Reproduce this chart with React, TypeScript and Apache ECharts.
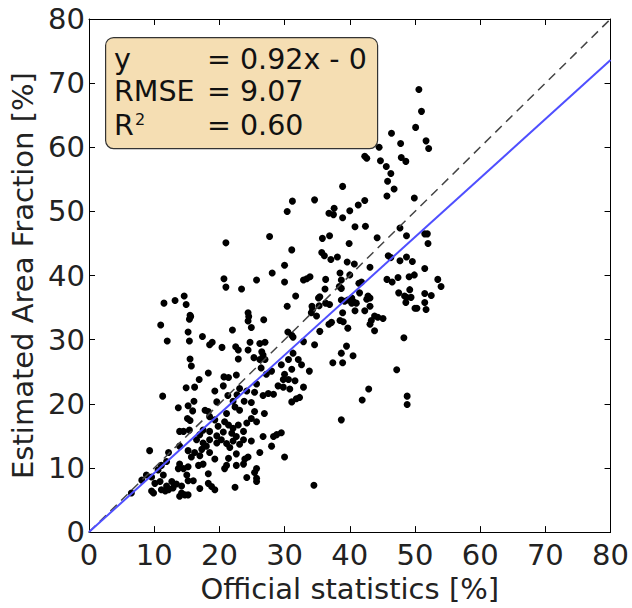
import React, { useEffect, useRef } from "react";
import * as echarts from "echarts";

const FONT = "DejaVu Sans";

// Axis range and ticks
const AXIS_MIN = 0;
const AXIS_MAX = 80;
const AXIS_STEP = 10;

// Regression fit (y = 0.92x - 0)
const FIT_SLOPE = 0.92;
const FIT_INTERCEPT = 0;

// Stats box text
const STAT_NAMES = ["y", "RMSE", "R"];
const STAT_VALUES = ["= 0.92x - 0", "= 9.07", "= 0.60"];

// Scatter points: [official statistics %, estimated area fraction %]
const POINTS_LOW: [number, number][] = [
  [16.9,23.8],[18.3,24.8],[20.7,24.2],[21.4,24.1],[22.6,24.5],[20.6,22.8],[23.1,22.4],[14.9,22.5],[16.2,22.6],[11.3,21.2],
  [19.3,22.0],[21.3,21.3],[22.7,21.4],[24.2,22.0],[25.4,21.8],[26.7,21.3],[27.5,21.6],[25.7,23.1],[16.1,20.4],[13.7,19.4],
  [15.2,19.7],[19.6,20.3],[22.1,20.4],[23.8,20.4],[24.9,20.2],[17.8,19.0],[18.3,18.8],[15.9,18.9],[18.5,18.0],[19.3,17.5],
  [15.1,17.7],[15.5,17.4],[21.1,18.5],[22.4,19.5],[23.1,19.0],[25.4,18.8],[26.9,18.5],[24.9,17.7],[25.7,17.2],[24.2,17.0],
  [21.4,16.7],[20.8,17.2],[19.8,16.5],[22.1,16.2],[22.9,16.7],[23.7,15.7],[22.6,14.9],[21.9,15.4],[20.6,15.6],[19.6,15.0],
  [18.5,15.7],[17.5,15.9],[17.0,15.2],[13.9,15.7],[14.5,15.7],[15.4,15.9],[16.5,14.4],[17.5,13.9],[18.0,13.4],[17.3,12.9],
  [18.5,14.4],[19.6,13.9],[20.3,14.4],[21.1,13.8],[21.6,13.2],[22.1,14.2],[23.1,13.7],[23.7,14.4],[24.9,14.2],[26.7,14.9],
  [28.3,14.9],[28.8,15.2],[29.5,15.5],[28.0,13.4],[26.2,12.4],[30.0,11.7],[24.4,11.7],[23.9,11.4],[22.6,12.2],[21.4,11.5],
  [19.3,11.4],[18.5,12.4],[17.0,11.9],[16.2,12.4],[15.7,11.7],[15.2,12.7],[13.9,13.4],[12.2,12.4],[9.3,12.7],[11.9,11.0],
  [13.9,10.6],[14.5,9.9],[15.2,10.2],[13.7,9.9],[16.8,10.4],[17.5,10.6],[18.3,9.1],[20.8,9.9],[21.1,10.4],[22.6,10.4],
  [23.7,10.6],[25.7,9.9],[25.4,9.3],[24.2,8.5],[25.7,8.4],[25.7,7.9],[18.3,7.6],[18.8,7.1],[19.3,6.6],[22.4,7.0],
  [17.0,6.8],[11.4,8.9],[10.9,7.9],[10.1,7.6],[9.6,8.6],[11.9,7.2],[12.7,7.9],[12.9,6.9],[12.2,6.6],[11.7,6.4],
  [11.1,6.6],[9.9,6.1],[9.6,6.4],[14.2,7.2],[14.2,6.1],[14.7,5.8],[15.2,5.8],[13.9,5.6],[13.4,7.5],[15.0,8.9],
  [15.2,8.0],[16.0,8.0],[6.5,6.1],[8.1,8.1],[8.8,8.9],[10.6,9.7],[11.1,10.4],[34.5,7.3],
];

const POINTS_LEFT_MID: [number, number][] = [
  [20.7,39.5],[21.0,38.2],[25.7,39.3],[23.4,37.9],[11.5,35.7],[13.2,36.1],[14.6,36.8],[14.9,35.5],[15.5,33.8],[15.6,33.6],
  [15.4,33.2],[11.0,32.3],[15.2,31.2],[12.0,29.8],[15.4,29.8],[17.4,30.5],[18.5,29.2],[18.9,29.6],[20.4,28.8],[22.0,31.5],
  [24.4,34.2],[24.5,33.6],[24.4,32.9],[24.9,31.9],[26.8,33.1],[22.5,28.9],[22.9,28.4],[24.7,29.6],[24.4,28.4],[26.2,29.4],
  [27.0,29.6],[26.5,28.1],[26.7,27.6],[26.2,26.9],[27.0,26.9],[22.9,27.0],[25.3,27.2],[15.5,27.0],[15.7,25.9],[26.4,25.6],
  [27.2,24.6],
];

const POINTS_CENTER: [number, number][] = [
  [30.0,41.6],[28.1,40.4],[30.0,39.0],[32.9,39.3],[33.4,39.5],[33.9,39.8],[36.3,39.4],[38.5,40.4],[38.7,39.3],[38.4,38.3],
  [38.7,38.0],[43.1,41.3],[40.0,40.1],[36.2,37.9],[31.7,36.8],[35.4,36.7],[35.2,36.5],[36.3,35.7],[36.9,35.5],[34.2,35.2],
  [34.3,34.7],[34.1,34.2],[30.4,35.2],[35.3,35.3],[38.7,36.2],[39.2,36.0],[39.7,36.2],[40.3,36.5],[40.5,36.0],[41.0,35.7],
  [40.3,35.7],[41.5,37.3],[41.4,38.8],[41.8,39.0],[42.8,36.8],[43.1,36.5],[42.6,36.3],[43.1,35.2],[42.3,34.5],[43.8,33.7],
  [44.3,33.5],[43.3,33.0],[40.8,34.5],[38.9,34.2],[43.1,32.4],[43.8,31.4],[38.5,33.0],[39.0,32.8],[37.2,32.7],[36.8,32.4],
  [34.9,33.7],[39.7,31.8],[35.4,31.3],[30.5,31.2],[31.1,30.7],[31.3,30.4],[32.9,29.7],[34.6,29.2],[39.5,29.0],[38.7,27.9],
  [40.5,27.5],[37.4,26.4],[38.9,26.4],[42.9,22.3],[41.9,20.6],[38.7,17.5],[28.0,25.1],[29.5,26.1],[30.6,26.9],[31.3,27.9],
  [32.1,26.9],[32.6,26.1],[31.1,25.4],[30.0,24.6],[29.8,23.8],[30.6,23.8],[29.0,22.8],[29.8,22.6],[30.8,22.3],[28.3,21.5],
  [31.6,23.6],[32.9,22.6],[33.8,25.1],[31.8,20.8],[32.3,21.0],[31.1,20.3],
];

const POINTS_RIGHT: [number, number][] = [
  [45.7,39.4],[46.5,39.0],[47.4,39.7],[49.1,39.8],[49.9,40.1],[53.5,39.4],[54.0,38.3],[47.5,37.3],[49.2,37.8],[48.4,36.8],
  [48.7,36.6],[49.4,36.6],[48.6,35.8],[51.5,37.2],[52.5,36.9],[51.5,35.8],[50.0,34.9],[50.3,34.9],[51.7,34.7],[45.1,33.3],
  [48.3,30.3],[47.2,25.3],[48.8,21.2],[48.8,19.9],
];

const POINTS_HIGH: [number, number][] = [
  [51.0,65.6],[50.1,63.1],[46.4,62.2],[47.8,60.6],[51.7,61.0],[52.1,59.8],[44.5,60.0],[42.3,58.6],[42.6,58.3],[44.7,57.9],
  [47.9,58.4],[48.6,57.8],[45.6,57.0],[46.3,55.9],[45.8,54.7],[46.8,53.5],[38.9,53.9],[45.7,52.4],[49.9,52.1],[42.3,51.7],
  [41.3,51.0],[40.0,50.1],[37.6,50.5],[37.5,49.5],[36.8,49.7],[38.9,49.0],[34.6,51.8],[31.2,51.6],[30.4,50.0],[40.8,47.6],
  [42.4,47.7],[47.7,47.4],[51.5,46.5],[51.9,46.5],[48.7,46.2],[44.2,45.9],[35.8,45.8],[36.9,46.2],[39.9,45.0],[52.0,45.0],
  [31.1,44.0],[35.7,43.6],[36.1,43.1],[37.1,42.5],[38.1,42.9],[39.6,42.1],[40.7,41.8],[45.9,43.1],[46.3,42.8],[47.7,42.3],
  [48.7,42.9],[49.6,42.2],[51.5,41.1],[50.6,69.0],[21.0,45.1],[27.7,46.1],
];

const ALL_POINTS = [...POINTS_LOW, ...POINTS_LEFT_MID, ...POINTS_CENTER, ...POINTS_RIGHT, ...POINTS_HIGH];

export default function App() {
  const ref = useRef<HTMLDivElement>(null);

  useEffect(() => {
    if (!ref.current) return;
    const chart = echarts.init(ref.current, null, { renderer: "svg" });

    const tickCommon = {
      type: "value" as const,
      min: AXIS_MIN,
      max: AXIS_MAX,
      interval: AXIS_STEP,
      splitLine: { show: false },
      axisLine: { show: true, onZero: false, lineStyle: { color: "#000", width: 1 } },
      axisTick: { show: true, inside: true, length: 6, lineStyle: { color: "#000", width: 1 } },
    };
    const labelStyle = { fontSize: 29, color: "#222", fontFamily: FONT };

    const graphic: any[] = [
      {
        type: "rect",
        left: 105,
        top: 37,
        shape: { width: 272, height: 111, r: 8 },
        style: { fill: "#f5deb3", stroke: "#333", lineWidth: 1.2 },
        z: 100,
      },
    ];
    const rowY = [45, 77, 111];
    STAT_NAMES.forEach((n, i) => {
      graphic.push({
        type: "text",
        left: 114,
        top: rowY[i],
        style: { text: n, font: `28.5px '${FONT}'`, fill: "#111" },
        z: 101,
      });
      graphic.push({
        type: "text",
        left: 207,
        top: rowY[i],
        style: { text: STAT_VALUES[i], font: `28.5px '${FONT}'`, fill: "#111" },
        z: 101,
      });
    });
    graphic.push({
      type: "text",
      left: 135,
      top: 111,
      style: { text: "2", font: `16px '${FONT}'`, fill: "#111" },
      z: 101,
    });

    chart.setOption({
      animation: false,
      backgroundColor: "#fff",
      grid: { left: 89, right: 21, top: 19, bottom: 63, containLabel: false },
      xAxis: [
        {
          ...tickCommon,
          position: "bottom",
          axisLabel: { ...labelStyle, margin: 8 },
          name: "Official statistics [%]",
          nameLocation: "middle",
          nameGap: 39,
          nameTextStyle: { ...labelStyle, verticalAlign: "top" },
        },
        { ...tickCommon, position: "top", axisLabel: { show: false } },
      ],
      yAxis: [
        {
          ...tickCommon,
          position: "left",
          axisLabel: { ...labelStyle, margin: 4 },
          name: "Estimated Area Fraction [%]",
          nameLocation: "middle",
          nameGap: 46,
          nameTextStyle: { ...labelStyle },
        },
        { ...tickCommon, position: "right", axisLabel: { show: false } },
      ],
      series: [
        {
          type: "scatter",
          data: ALL_POINTS,
          symbol: "circle",
          symbolSize: 7,
          itemStyle: { color: "#000", opacity: 1 },
          z: 2,
        },
        {
          type: "line",
          data: [[AXIS_MIN, AXIS_MIN], [AXIS_MAX, AXIS_MAX]],
          symbol: "none",
          lineStyle: { color: "#444", width: 1.5, type: [9, 6] },
          z: 3,
        },
        {
          type: "line",
          data: [
            [AXIS_MIN, FIT_SLOPE * AXIS_MIN + FIT_INTERCEPT],
            [AXIS_MAX, FIT_SLOPE * AXIS_MAX + FIT_INTERCEPT],
          ],
          symbol: "none",
          lineStyle: { color: "#4f4fff", width: 2 },
          z: 4,
        },
      ],
      graphic,
    });

    return () => chart.dispose();
  }, []);

  return (
    <div
      ref={ref}
      style={{ position: "absolute", left: 0, top: 0, width: 632, height: 608 }}
    />
  );
}
